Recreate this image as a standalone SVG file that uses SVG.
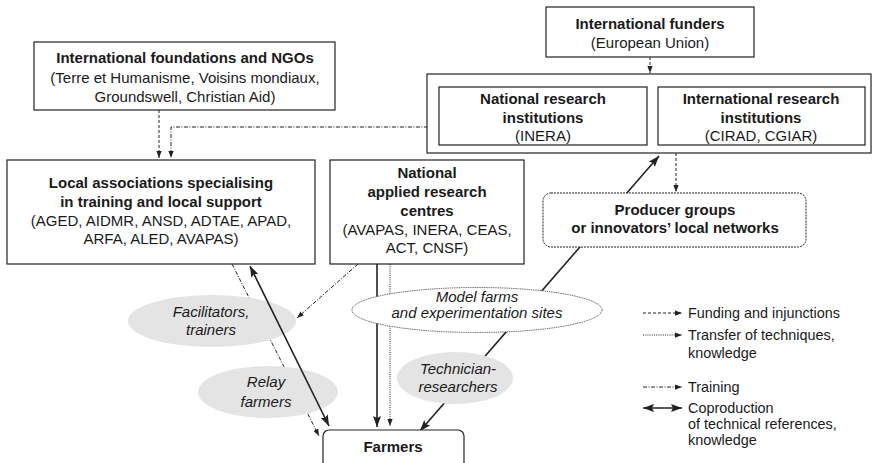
<svg xmlns="http://www.w3.org/2000/svg" width="873" height="463" viewBox="0 0 873 463">
<style>
text{font-family:"Liberation Sans",Arial,sans-serif;font-size:15px;fill:#1a1a1a;text-anchor:middle}
.b{font-weight:bold}
.i{font-style:italic}
.l{text-anchor:start;font-size:14.4px}
.box{fill:#fff;stroke:#222;stroke-width:1.2}
.grey{fill:#e4e4e4;stroke:none}
.c{fill:none;stroke:#222}
.fund{stroke-width:1;stroke-dasharray:3 2}
.tran{stroke-width:1;stroke-dasharray:1 1.2}
.trai{stroke-width:1;stroke-dasharray:4 1.5 1 1.5}
.cop{stroke-width:1.6}
</style>
<defs>
<marker id="ah" markerUnits="userSpaceOnUse" viewBox="0 0 8 6" refX="8" refY="3" markerWidth="7" markerHeight="5.5" orient="auto-start-reverse">
<path d="M0,0 L8,3 L0,6 z" fill="#222"/>
</marker>
<marker id="ahb" markerUnits="userSpaceOnUse" viewBox="0 0 11 8" refX="11" refY="4" markerWidth="11" markerHeight="8" orient="auto-start-reverse">
<path d="M0,0 L11,4 L0,8 L2,4 z" fill="#222"/>
</marker>
</defs>

<g id="connectors">
<path class="c fund" d="M159,110 V158" marker-end="url(#ah)"/>
<path class="c trai" d="M428,127 H171 V158" marker-end="url(#ah)"/>
<path class="c fund" d="M650,57 V73" marker-end="url(#ah)"/>
<path class="c fund" d="M676,153 V192" marker-end="url(#ah)"/>
<path class="c cop" d="M420,431 L659,156" marker-start="url(#ahb)" marker-end="url(#ahb)"/>
<path class="c trai" d="M232,264 L319,436" marker-end="url(#ah)"/>
<path class="c trai" d="M358,264 L297,318" marker-end="url(#ah)"/>
<path class="c cop" d="M377,264 V427" marker-end="url(#ahb)"/>
<path class="c tran" d="M390,264 V426" marker-end="url(#ah)"/>
</g>

<g id="intl-foundations">
<rect class="box" x="34" y="42" width="301" height="68"/>
<text class="b" x="185" y="63">International foundations and NGOs</text>
<text x="185" y="83">(Terre et Humanisme, Voisins mondiaux,</text>
<text x="185" y="102">Groundswell, Christian Aid)</text>
</g>

<g id="intl-funders">
<rect class="box" x="546" y="7" width="208" height="50"/>
<text class="b" x="650" y="29">International funders</text>
<text x="650" y="48">(European Union)</text>
</g>

<g id="research-group">
<rect class="box" x="427" y="74" width="444" height="79"/>
</g>

<g id="national-research">
<rect class="box" x="439" y="87" width="208" height="58"/>
<text class="b" x="543" y="104">National research</text>
<text class="b" x="543" y="123">institutions</text>
<text x="543" y="141">(INERA)</text>
</g>

<g id="intl-research">
<rect class="box" x="658" y="87" width="207" height="58"/>
<text class="b" x="761" y="104">International research</text>
<text class="b" x="761" y="123">institutions</text>
<text x="761" y="141">(CIRAD, CGIAR)</text>
</g>

<g id="local-associations">
<rect class="box" x="7" y="160" width="308" height="104"/>
<text class="b" x="161" y="188">Local associations specialising</text>
<text class="b" x="161" y="207">in training and local support</text>
<text x="161" y="226">(AGED, AIDMR, ANSD, ADTAE, APAD,</text>
<text x="161" y="244">ARFA, ALED, AVAPAS)</text>
</g>

<g id="national-centres">
<rect class="box" x="330" y="160" width="194" height="104"/>
<text class="b" x="427" y="178">National</text>
<text class="b" x="427" y="197">applied research</text>
<text class="b" x="427" y="216">centres</text>
<text x="427" y="235">(AVAPAS, INERA, CEAS,</text>
<text x="427" y="253">ACT, CNSF)</text>
</g>

<g id="producer-groups">
<rect x="543" y="193" width="263" height="54" rx="8" fill="#fff" stroke="#222" stroke-width="1" stroke-dasharray="2 1"/>
<text class="b" x="675" y="215">Producer groups</text>
<text class="b" x="675" y="233">or innovators’ local networks</text>
</g>

<g id="model-farms">
<ellipse cx="477" cy="310" rx="125" ry="22.5" fill="#fff" stroke="#333" stroke-width="0.9" stroke-dasharray="1 0.8"/>
<text class="i" x="477" y="302">Model farms</text>
<text class="i" x="477" y="318">and experimentation sites</text>
</g>

<g id="facilitators">
<ellipse class="grey" cx="212" cy="321" rx="84" ry="26"/>
<text class="i" x="211" y="317">Facilitators,</text>
<text class="i" x="211" y="335">trainers</text>
</g>

<g id="relay-farmers">
<ellipse class="grey" cx="268" cy="392" rx="70" ry="26"/>
<text class="i" x="266" y="387">Relay</text>
<text class="i" x="266" y="407">farmers</text>
</g>

<g id="technician-researchers">
<ellipse class="grey" cx="455" cy="378" rx="58" ry="26"/>
<text class="i" x="458" y="374">Technician-</text>
<text class="i" x="458" y="392">researchers</text>
</g>

<g id="farmers">
<rect class="box" x="323" y="430" width="141" height="40" rx="6"/>
<text class="b" x="393" y="452">Farmers</text>
</g>

<g id="connectors-top">
<path class="c cop" d="M250,266 L329,426" marker-start="url(#ahb)" marker-end="url(#ahb)"/>
</g>

<g id="legend">
<path class="c fund" d="M643,313 H682" marker-end="url(#ah)"/>
<text class="l" x="688" y="318">Funding and injunctions</text>
<path class="c tran" d="M643,335 H682" marker-end="url(#ah)"/>
<text class="l" x="688" y="340">Transfer of techniques,</text>
<text class="l" x="688" y="358">knowledge</text>
<path class="c trai" d="M643,387 H682" marker-end="url(#ah)"/>
<text class="l" x="688" y="392">Training</text>
<path class="c cop" d="M643,408 H682" marker-start="url(#ahb)" marker-end="url(#ahb)"/>
<text class="l" x="688" y="413">Coproduction</text>
<text class="l" x="688" y="429">of technical references,</text>
<text class="l" x="688" y="445">knowledge</text>
</g>
</svg>
